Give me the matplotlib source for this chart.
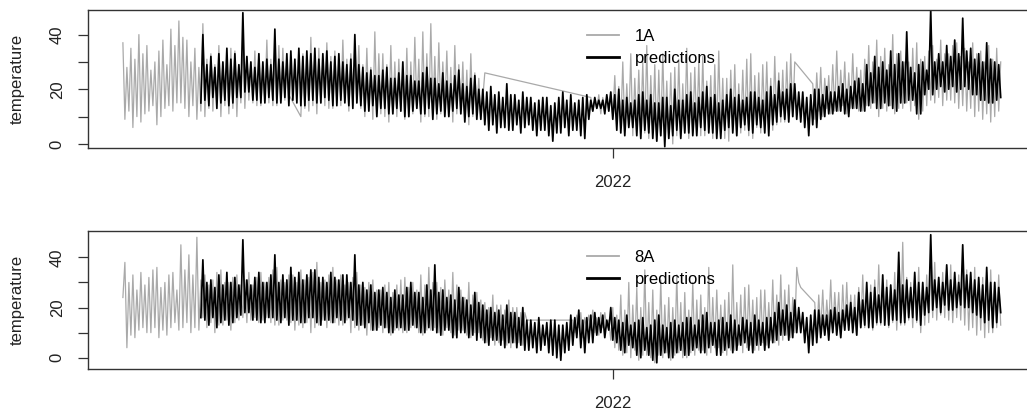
import numpy as np
import matplotlib
matplotlib.use("Agg")
import matplotlib.pyplot as plt
import matplotlib.dates as mdates
from matplotlib.lines import Line2D

plt.rcParams['font.family'] = ['Liberation Sans', 'DejaVu Sans']

#series start and sampling step (days)
start = np.datetime64('2021-05-01')
step = 1

#sensor 1A observations, split where the logger had gaps (start day, values)
obs1_a_start = 0
obs1_a = [37, 9, 28, 12, 35, 6, 31, 10, 40, 8, 33, 11, 36, 12, 27, 14, 30, 7, 34, 10,
          38, 13, 29, 14, 42, 12, 36, 15, 45, 15, 39, 13, 38, 10, 30, 14, 35, 9, 28, 12,
          44, 10, 31, 13, 33, 12, 29, 15, 36, 10, 30, 14, 31, 11, 35, 13, 34, 10, 29, 15,
          37, 13, 32, 16, 30, 15, 34, 14, 33, 14, 28, 16, 38, 15, 31, 14, 31, 14, 36, 16,
          35, 16, 31, 18]
obs1_b_start = 89
obs1_b = [10, 33, 13, 28, 12, 39, 14, 31, 11, 35, 15, 30, 14, 37, 13, 32, 13, 34, 15, 29,
          14, 38, 16, 31, 12, 33, 14, 30, 15, 36, 13, 29, 10, 35, 12, 28, 9, 41, 11, 33,
          11, 33, 10, 29, 8, 36, 11, 30, 10, 31, 12, 27, 9, 35, 10, 30, 11, 39, 13, 31,
          8, 41, 10, 33, 10, 44, 12, 32, 9, 37, 11, 30, 12, 34, 10, 28, 8, 36, 11, 29,
          11, 30, 9, 27, 7, 33, 10, 26, 12, 24, 9, 17, 26]
obs1_c_start = 234
obs1_c = [17, 12, 16, 13, 18, 11, 17, 13, 17, 12, 19, 10, 25, 8, 21, 6, 30, 5, 22, 7,
          33, 3, 24, 6, 27, 6, 30, 4, 36, 2, 25, 5, 29, 1, 27, 3, 33, 4, 23, 2,
          26, 0, 28, 3, 31, 3, 22, 5, 35, 2, 26, 4, 28, 5, 30, 3, 32, 3, 23, 6,
          25, 2, 29, 4, 34, 4, 24, 2, 24, 1, 27, 5, 29, 3, 22, 4, 27, 5, 31, 3,
          33, 2, 25, 6, 26, 4, 29, 7, 30, 6, 24, 5, 32, 7, 26, 8, 27, 8, 30, 9,
          33, 10, 30]
obs1_d_start = 345
obs1_d = [22, 9, 26, 12, 28, 10, 24, 13, 25, 11, 29, 12, 34, 12, 27, 14, 30, 11, 26, 13,
          33, 13, 28, 12, 27, 12, 31, 14, 36, 13, 30, 15, 38, 10, 32, 13, 35, 12, 29, 14,
          40, 11, 33, 13, 34, 13, 30, 15, 30, 12, 35, 14, 37, 9, 31, 12, 32, 14, 34, 16,
          36, 15, 31, 17, 38, 14, 33, 16, 33, 16, 36, 15, 37, 13, 32, 14, 35, 12, 30, 13,
          37, 10, 33, 12, 34, 9, 30, 11, 36, 8, 31, 10, 35, 12, 30]

#model predictions for 1A
pred1_start = 39
pred1 = [15, 40, 16, 29, 14, 32, 17, 28, 13, 33, 15, 30, 16, 35, 14, 31, 15, 33, 17, 29,
         17, 48, 19, 32, 19, 30, 16, 28, 16, 33, 15, 30, 15, 31, 17, 29, 16, 42, 15, 31,
         15, 30, 17, 33, 14, 34, 16, 31, 15, 35, 14, 32, 14, 34, 16, 33, 16, 35, 15, 31,
         15, 33, 17, 34, 16, 30, 14, 32, 14, 33, 16, 30, 15, 29, 14, 31, 13, 40, 15, 29,
         14, 28, 12, 26, 12, 27, 14, 25, 10, 25, 13, 27, 13, 28, 11, 24, 11, 24, 13, 26,
         12, 30, 10, 25, 10, 25, 12, 23, 13, 23, 11, 26, 11, 28, 13, 24, 9, 24, 11, 22,
         12, 26, 10, 23, 10, 22, 12, 25, 13, 27, 11, 22, 8, 21, 10, 24, 11, 25, 9, 20,
         9, 20, 7, 19, 5, 21, 7, 18, 4, 19, 6, 17, 6, 22, 5, 18, 5, 18, 7, 16,
         4, 19, 6, 17, 7, 17, 5, 15, 3, 16, 5, 17, 5, 17, 3, 14, 1, 15, 4, 17,
         4, 19, 6, 16, 3, 18, 5, 15, 5, 16, 3, 17, 2, 18, 9, 16, 12, 17, 13, 16,
         13, 16, 11, 18, 12, 19, 9, 18, 5, 20, 4, 16, 3, 17, 6, 15, 6, 16, 3, 18,
         2, 19, 5, 16, 4, 18, 2, 15, 1, 15, 3, 17, -1, 17, 2, 14, 3, 20, 5, 16,
         2, 16, 4, 18, 4, 19, 3, 15, 3, 17, 6, 19, 5, 21, 4, 17, 4, 18, 2, 15,
         2, 16, 5, 18, 6, 20, 4, 17, 3, 18, 6, 16, 7, 17, 5, 19, 4, 19, 7, 17,
         6, 16, 4, 19, 3, 21, 7, 18, 8, 23, 10, 19, 9, 20, 8, 22, 10, 22, 9, 19,
         8, 19, 6, 17, 3, 18, 7, 20, 6, 20, 9, 18, 10, 21, 11, 19, 11, 19, 12, 21,
         12, 22, 11, 20, 10, 21, 13, 23, 13, 24, 12, 22, 12, 29, 14, 26, 15, 32, 13, 28,
         13, 30, 15, 27, 14, 34, 13, 29, 12, 33, 15, 30, 15, 41, 16, 28, 16, 26, 11, 29,
         11, 30, 18, 27, 20, 49, 18, 30, 20, 33, 21, 30, 19, 36, 20, 32, 21, 38, 19, 33,
         20, 46, 21, 34, 20, 35, 18, 31, 18, 33, 16, 30, 16, 37, 15, 31, 15, 30, 16, 29,
         17]

#sensor 8A observations
obs8_a_start = 0
obs8_a = [24,
          38, 4, 30, 9, 33, 8, 27, 11, 34, 12, 29, 10, 32, 10, 35, 12, 36, 8, 28, 11,
          30, 9, 33, 12, 34, 14, 27, 11, 45, 12, 35, 14, 41, 10, 33, 12, 48, 11, 31, 16,
          33, 12, 29, 14, 31, 10, 34, 13, 35, 13, 30, 15, 30, 11, 32, 14, 33, 15, 29, 16,
          31, 14, 34, 15, 29, 16, 32, 14, 34, 15, 30, 16, 32, 14, 35, 13, 36, 13, 31, 15,
          30, 15, 33, 14, 33, 11, 30, 13, 35, 12, 31, 14, 32, 10, 34, 12, 38, 13, 30, 15,
          31, 12, 33, 14, 36, 14, 31, 13, 33, 13, 29, 15, 30, 10, 32, 12, 34, 11, 29, 13,
          28, 9, 30, 11, 31, 11, 27, 12, 27, 10, 29, 12, 30, 9, 26, 11, 29, 11, 31, 10,
          32, 10, 28, 12, 30, 12, 27, 10, 33, 9, 29, 11, 36, 11, 30, 12, 30, 10, 28, 9,
          31, 12, 27, 10, 34, 9, 29, 11, 27, 11, 24, 9, 30, 8, 25, 10, 26, 10, 23, 7,
          22, 6, 20, 8, 25, 5, 21, 6, 21, 7, 19, 5, 23, 4, 20, 6, 20, 6, 18, 5,
          18, 15]
obs8_b_start = 225
obs8_b = [15, 10, 17, 12, 18, 8, 16, 11, 17, 11, 19, 10, 16, 9, 18, 12, 18, 12, 15, 7,
          20, 4, 17, 3, 25, 1, 19, 2, 30, 0, 21, 3, 28, -1, 20, 1, 35, 1, 22, 0,
          27, -2, 19, 1, 31, 0, 21, 2, 24, -1, 20, 1, 33, 2, 22, 0, 26, 0, 19, 2,
          30, 1, 23, 3, 25, 3, 20, 1, 36, 2, 24, 4, 27, 4, 21, 2, 23, 1, 26, 3,
          37, 3, 22, 5, 25, 2, 28, 4, 29, 5, 23, 3, 24, 3, 27, 6, 27, 5, 22, 7,
          31, 6, 25, 5, 33, 7, 27, 9, 29, 8, 24, 10, 36, 30, 28]
obs8_c_start = 346
obs8_c = [22, 8, 25, 11, 27, 9, 23, 12, 31, 10, 26, 13, 26, 8, 29, 11, 30, 11, 25, 13,
          25, 9, 28, 12, 33, 12, 27, 14, 29, 11, 31, 13, 37, 13, 30, 15, 31, 12, 28, 14,
          34, 11, 29, 13, 46, 13, 32, 15, 30, 12, 33, 14, 36, 10, 30, 13, 33, 14, 35, 16,
          38, 15, 32, 17, 34, 16, 36, 15, 37, 14, 31, 16, 33, 15, 35, 13, 35, 11, 30, 12,
          36, 9, 31, 11, 32, 8, 34, 10, 35, 10, 30, 12, 33, 13]

#model predictions for 8A
pred8_start = 39
pred8 = [16, 39, 15, 30, 13, 31, 16, 28, 12, 33, 14, 29, 15, 34, 13, 30, 14, 32, 16, 29,
         17, 47, 18, 31, 18, 29, 15, 32, 15, 34, 14, 30, 14, 30, 16, 33, 16, 41, 15, 30,
         14, 33, 16, 31, 13, 36, 15, 32, 15, 34, 14, 31, 14, 33, 16, 35, 16, 35, 14, 32,
         13, 32, 15, 30, 15, 34, 14, 32, 16, 31, 15, 33, 14, 33, 16, 30, 15, 41, 13, 29,
         13, 30, 12, 27, 14, 29, 11, 26, 11, 27, 13, 28, 12, 26, 10, 24, 10, 27, 12, 25,
         12, 25, 11, 28, 11, 30, 13, 26, 12, 26, 10, 24, 10, 29, 12, 27, 11, 37, 10, 26,
         9, 27, 11, 24, 11, 25, 8, 23, 8, 28, 10, 24, 10, 23, 8, 21, 9, 26, 7, 22,
         8, 21, 6, 19, 5, 20, 7, 18, 7, 19, 5, 17, 4, 21, 6, 18, 6, 18, 4, 16,
         5, 20, 3, 15, 3, 15, 4, 14, 2, 16, 3, 13, 5, 14, 2, 15, 1, 15, 0, 13,
         -1, 13, 2, 14, 3, 17, 5, 16, 8, 19, 4, 15, 2, 16, 6, 17, 6, 18, 9, 16,
         10, 17, 8, 15, 11, 20, 7, 16, 6, 15, 3, 14, 2, 17, 5, 13, 4, 14, 1, 15,
         0, 16, 3, 12, 1, 13, -1, 15, -2, 17, 1, 13, 2, 12, 0, 14, 0, 15, 2, 13,
         3, 14, 1, 16, 1, 16, 3, 13, 4, 15, 2, 17, 2, 18, 4, 14, 5, 14, 1, 15,
         1, 16, 3, 14, 4, 17, 2, 15, 3, 13, 5, 16, 6, 15, 3, 14, 2, 17, 5, 15,
         5, 14, 3, 16, 4, 16, 6, 18, 7, 22, 9, 19, 9, 21, 7, 18, 8, 23, 10, 20,
         10, 18, 6, 16, 2, 17, 5, 19, 6, 19, 8, 17, 9, 17, 7, 19, 10, 20, 9, 18,
         8, 19, 11, 21, 11, 22, 10, 20, 9, 26, 12, 23, 13, 30, 12, 26, 12, 28, 14, 25,
         14, 33, 13, 28, 13, 29, 15, 27, 15, 42, 14, 29, 14, 31, 16, 28, 16, 34, 15, 30,
         13, 30, 17, 28, 18, 49, 19, 31, 20, 32, 18, 30, 21, 37, 19, 31, 19, 34, 20, 30,
         21, 45, 20, 33, 20, 34, 18, 31, 17, 32, 16, 29, 14, 36, 15, 30, 12, 30, 14, 28,
         18]

obs_color = '#a9a9a9'
box_color = '#333333'


def to_dates(day0, values):
    """turn a start day and a list of daily samples into dates + values"""
    days = day0 + step * np.arange(len(values))
    return start + days.astype('timedelta64[D]'), np.array(values, dtype=float)


def join_segments(segments):
    #gaps are simply missing rows, so the line runs straight across them
    xs, ys = [], []
    for day0, vals in segments:
        x, y = to_dates(day0, vals)
        xs.append(x)
        ys.append(y)
    return np.concatenate(xs), np.concatenate(ys)


def draw_panel(ax, segments, pred_start, pred, ylim, name):
    x_obs, y_obs = join_segments(segments)
    x_pred, y_pred = to_dates(pred_start, pred)

    ax.plot(x_obs, y_obs, color=obs_color, lw=0.9)
    ax.plot(x_pred, y_pred, color='black', lw=1.25)

    #R style 4% padding around the full time range
    t0 = mdates.date2num(start)
    ax.set_xlim(t0 - 17.6, t0 + 457.6)
    ax.set_ylim(*ylim)

    ax.set_xticks([mdates.date2num(np.datetime64('2022-01-01'))])
    ax.set_xticklabels(['2022'])
    ax.set_yticks([0, 10, 20, 30, 40])
    ax.set_yticklabels(['0', '', '20', '', '40'], rotation=90, va='center')
    ax.tick_params(axis='both', length=7.5, width=0.9, color=box_color,
                   labelsize=12, labelcolor='#222222')
    ax.tick_params(axis='x', pad=12)
    ax.tick_params(axis='y', pad=9)
    for sp in ax.spines.values():
        sp.set_color(box_color)
        sp.set_linewidth(1.0)

    handles = [Line2D([], [], color=obs_color, lw=1.3),
               Line2D([], [], color='black', lw=2.0)]
    ax.legend(handles, [name, 'predictions'], loc='upper left',
              bbox_to_anchor=(0.5255, 0.865), frameon=False, fontsize=12,
              handlelength=1.9, handletextpad=0.95, labelspacing=0.45,
              borderpad=0, borderaxespad=0)


fig = plt.figure(figsize=(10.27, 4.12), dpi=100)
W, H = 1027.0, 412.0

#panels share the same width, right edge runs past the figure
ax1 = fig.add_axes([87.7 / W, (H - 148.3) / H, 950.2 / W, 138.3 / H])
ax2 = fig.add_axes([87.7 / W, (H - 369.3) / H, 950.2 / W, 138.3 / H])

draw_panel(ax1, [(obs1_a_start, obs1_a), (obs1_b_start, obs1_b),
                 (obs1_c_start, obs1_c), (obs1_d_start, obs1_d)],
           pred1_start, pred1, (-1.6, 49.0), '1A')
draw_panel(ax2, [(obs8_a_start, obs8_a), (obs8_b_start, obs8_b),
                 (obs8_c_start, obs8_c)],
           pred8_start, pred8, (-4.6, 50.5), '8A')

for ax in (ax1, ax2):
    pos = ax.get_position()
    fig.text(17.5 / W, pos.y0 + pos.height / 2, 'temperature', rotation=90,
             ha='center', va='center', fontsize=12, color='#222222')

fig.savefig('out.png', dpi=100)
